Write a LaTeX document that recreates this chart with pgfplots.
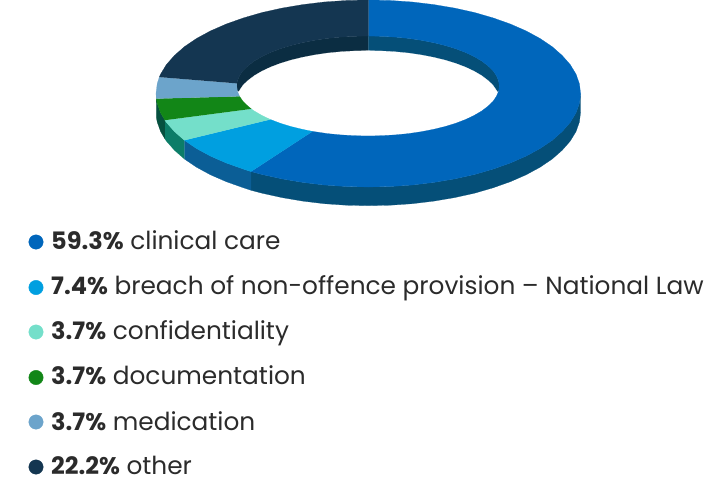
\documentclass[border=0pt]{standalone}
\usepackage{fontspec}
\setmainfont{Poppins}
\usepackage{pgfplots}
\pgfplotsset{compat=1.18}

\definecolor{cClinical}{HTML}{0066BB}
\definecolor{cBreach}{HTML}{009FE0}
\definecolor{cConf}{HTML}{74DFCA}
\definecolor{cDoc}{HTML}{128617}
\definecolor{cMed}{HTML}{6CA4CB}
\definecolor{cOther}{HTML}{143651}
\definecolor{sClinical}{HTML}{054F78}
\definecolor{sBreach}{HTML}{0B5E96}
\definecolor{sConf}{HTML}{0C7D68}
\definecolor{sDoc}{HTML}{06503F}
\definecolor{wOther}{HTML}{0B2D42}
\definecolor{cText}{HTML}{2B2B2B}

\newcommand{\legendrow}[3]{\node[anchor=base west,inner sep=0pt,text=cText,font=\fontsize{24.8}{28}\selectfont] at (axis cs:51,#1) {{\fontsize{24}{28}\selectfont\textbf{#2}} #3};}

\begin{document}
\begin{tikzpicture}
\useasboundingbox (0,0) rectangle (720pt,477pt);
\begin{axis}[
    ,width=720pt
    ,height=477pt
    ,scale only axis
    ,at={(0,0)}
    ,anchor=south west
    ,xmin=0,xmax=720
    ,ymin=0,ymax=477
    ,y dir=reverse
    ,hide axis
    ,clip=false
    ]
% outer side of the ring
\addplot[fill=sClinical,draw=sClinical,line width=0.2pt] coordinates {
(580.6,93.5)(579.4,103.3)(576.0,112.9)(570.2,122.4)(562.2,131.5)(552.2,140.3)(540.1,148.5)(526.1,156.1)(510.3,163.0)(493.1,169.1)(474.5,174.5)(454.6,178.9)(433.9,182.4)(412.4,185.0)(390.5,186.5)(368.3,187)(346.1,186.5)(324.2,185.0)(302.7,182.4)(282.0,178.9)(262.1,174.5)(251.1,171.6)
(251.1,190.3)(262.1,193.2)(282,197.6)(302.7,201.1)(324.2,203.7)(346.1,205.2)(368.3,205.7)(390.5,205.2)(412.4,203.7)(433.9,201.1)(454.6,197.6)(474.5,193.2)(493.1,187.8)(510.3,181.7)(526.1,174.8)(540.1,167.2)(552.2,159)(562.2,150.2)(570.2,141.1)(576,131.6)(579.4,122)(580.6,112.2)};
\addplot[fill=sBreach,draw=sBreach,line width=0.2pt] coordinates {
(251.1,171.6)(243.5,169.1)(226.3,163.0)(210.5,156.1)(196.5,148.5)(184.4,140.3)
(184.4,159)(196.5,167.2)(210.5,174.8)(226.3,181.7)(243.5,187.8)(251.1,190.3)};
\addplot[fill=sConf,draw=sConf,line width=0.2pt] coordinates {
(184.4,140.3)(174.4,131.5)(166.4,122.4)(164.9,120.2)
(164.9,138.9)(166.4,141.1)(174.4,150.2)(184.4,159)};
\addplot[fill=sDoc,draw=sDoc,line width=0.2pt] coordinates {
(164.9,120.2)(160.6,112.9)(157.2,103.3)(156.3,98.7)
(156.3,117.4)(157.2,122)(160.6,131.6)(164.9,138.9)};
% inner wall of the hole
\addplot[fill=wOther,draw=wOther,line width=0.2pt] coordinates {
(237.4,91.2)(236.7,86)(236.9,83.4)(237.4,80.8)(239.6,75.6)(243.1,70.5)(248.1,65.7)(254.3,61)(261.8,56.6)(270.4,52.5)(280.1,48.8)(290.8,45.5)(302.3,42.7)(314.6,40.3)(327.4,38.4)(340.7,37.1)(354.3,36.3)(368.3,36)(368.3,100)};
\addplot[fill=sClinical,draw=sClinical,line width=0.2pt] coordinates {
(368.3,36)(381.7,36.3)(395.3,37.1)(408.6,38.4)(421.4,40.3)(433.7,42.7)(445.2,45.5)(455.9,48.8)(465.6,52.5)(474.2,56.6)(481.7,61.0)(487.9,65.7)(492.9,70.5)(496.4,75.6)(498.6,80.8)(499.3,86)(498.6,91.2)(368.3,100)};
% white hole
\addplot[fill=white,draw=white,line width=0.2pt] coordinates {
(238.1,93.35)(239.6,90.3)(243.1,85.2)(248.1,80.4)(254.3,75.7)(261.8,71.3)(270.4,67.2)(280.1,63.5)(290.8,60.2)(302.3,57.4)(314.6,55)(327.4,53.1)(340.7,51.8)(354.3,51)(368,50.7)(381.7,51)(395.3,51.8)(408.6,53.1)(421.4,55)(433.7,57.4)(445.2,60.2)(455.9,63.5)(465.6,67.2)(474.2,71.3)(481.7,75.7)(487.9,80.4)(492.9,85.2)(496.4,90.3)(497.9,93.35)
(496.4,96.4)(492.9,101.5)(487.9,106.3)(481.7,111)(474.2,115.4)(465.6,119.5)(455.9,123.2)(445.2,126.5)(433.7,129.3)(421.4,131.7)(408.6,133.6)(395.3,134.9)(381.7,135.7)(368,136)(354.3,135.7)(340.7,134.9)(327.4,133.6)(314.6,131.7)(302.3,129.3)(290.8,126.5)(280.1,123.2)(270.4,119.5)(261.8,115.4)(254.3,111)(248.1,106.3)(243.1,101.5)(239.6,96.4)};
% top face, one ring sector per category
\addplot[fill=cClinical,draw=cClinical,line width=0.2pt] coordinates {
(368.3,0)(390.5,0.5)(412.4,2.0)(433.9,4.6)(454.6,8.1)(474.5,12.5)(493.1,17.9)(510.3,24.0)(526.1,30.9)(540.1,38.5)(552.2,46.7)(562.2,55.5)(570.2,64.6)(576.0,74.1)(579.4,83.7)(580.6,93.5)(579.4,103.3)(576.0,112.9)(570.2,122.4)(562.2,131.5)(552.2,140.3)(540.1,148.5)(526.1,156.1)(510.3,163.0)(493.1,169.1)(474.5,174.5)(454.6,178.9)(433.9,182.4)(412.4,185.0)(390.5,186.5)(368.3,187)(346.1,186.5)(324.2,185.0)(302.7,182.4)(282.0,178.9)(262.1,174.5)(251.1,171.6)
(312.6,131.4)(327.4,133.6)(340.7,134.9)(354.3,135.7)(368,136)(381.7,135.7)(395.3,134.9)(408.6,133.6)(421.4,131.7)(433.7,129.3)(445.2,126.5)(455.9,123.2)(465.6,119.5)(474.2,115.4)(481.7,111)(487.9,106.3)(492.9,101.5)(496.4,96.4)(498.6,91.2)(499.3,86)(498.6,80.8)(496.4,75.6)(492.9,70.5)(487.9,65.7)(481.7,61.0)(474.2,56.6)(465.6,52.5)(455.9,48.8)(445.2,45.5)(433.7,42.7)(421.4,40.3)(408.6,38.4)(395.3,37.1)(381.7,36.3)(368.3,36)};
\addplot[fill=cBreach,draw=cBreach,line width=0.2pt] coordinates {
(251.1,171.6)(243.5,169.1)(226.3,163.0)(210.5,156.1)(196.5,148.5)(184.4,140.3)
(270.4,119.5)(280.1,123.2)(290.8,126.5)(302.3,129.3)(312.6,131.4)};
\addplot[fill=cConf,draw=cConf,line width=0.2pt] coordinates {
(184.4,140.3)(174.4,131.5)(166.4,122.4)(164.9,120.2)
(251.3,108.9)(254.3,111)(261.8,115.4)(270.4,119.5)};
\addplot[fill=cDoc,draw=cDoc,line width=0.2pt] coordinates {
(164.9,120.2)(160.6,112.9)(157.2,103.3)(156.3,98.7)
(239.6,96.4)(243.1,101.5)(248.1,106.3)(251.3,108.9)};
\addplot[fill=cMed,draw=cMed,line width=0.2pt] coordinates {
(156.3,98.7)(156,93.5)(157.2,83.7)(159.3,77.1)
(236.9,83.4)(236.7,86)(237.4,91.2)(239.6,96.4)};
\addplot[fill=cOther,draw=cOther,line width=0.2pt] coordinates {
(159.3,77.1)(160.6,74.1)(166.4,64.6)(174.4,55.5)(184.4,46.7)(196.5,38.5)(210.5,30.9)(226.3,24.0)(243.5,17.9)(262.1,12.5)(282.0,8.1)(302.7,4.6)(324.2,2.0)(346.1,0.5)(368.3,0)
(368.3,36)(354.3,36.3)(340.7,37.1)(327.4,38.4)(314.6,40.3)(302.3,42.7)(290.8,45.5)(280.1,48.8)(270.4,52.5)(261.8,56.6)(254.3,61)(248.1,65.7)(243.1,70.5)(239.6,75.6)(237.4,80.8)(236.9,83.4)};
% legend dots
\addplot[only marks,mark=*,mark size=7.2pt,color=cClinical] coordinates {(36,242)};
\addplot[only marks,mark=*,mark size=7.2pt,color=cBreach] coordinates {(36,287.5)};
\addplot[only marks,mark=*,mark size=7.2pt,color=cConf] coordinates {(36,332)};
\addplot[only marks,mark=*,mark size=7.2pt,color=cDoc] coordinates {(36,377.5)};
\addplot[only marks,mark=*,mark size=7.2pt,color=cMed] coordinates {(36,422)};
\addplot[only marks,mark=*,mark size=7.2pt,color=cOther] coordinates {(36,467)};
\legendrow{249.5}{59.3\%}{clinical care}
\legendrow{294.5}{7.4\%}{breach of non-offence provision – National Law}
\legendrow{339.5}{3.7\%}{confidentiality}
\legendrow{384.5}{3.7\%}{documentation}
\legendrow{430}{3.7\%}{medication}
\legendrow{474}{22.2\%}{other}
\end{axis}
\end{tikzpicture}
\end{document}
